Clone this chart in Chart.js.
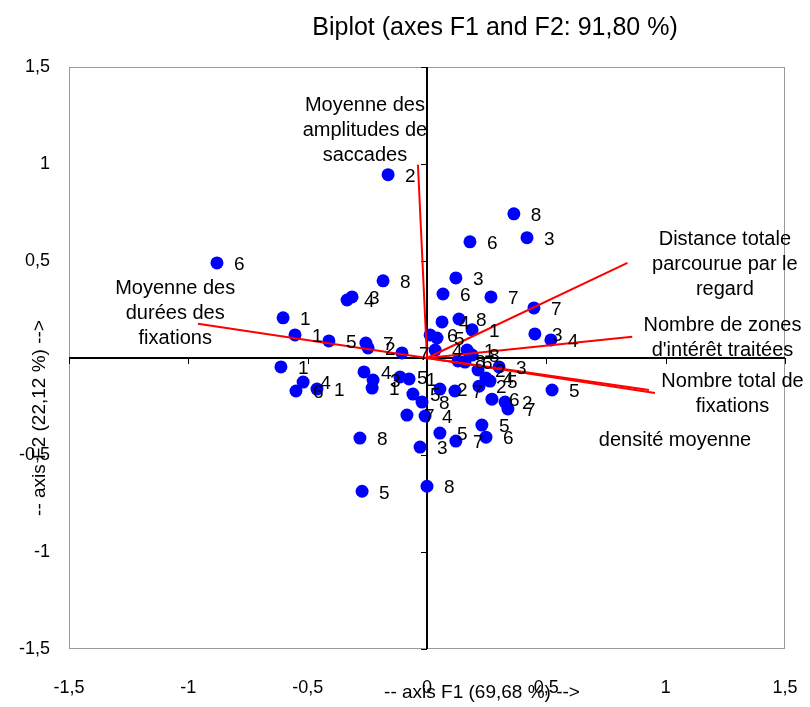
<!DOCTYPE html>
<html><head><meta charset="utf-8">
<script src="https://cdn.jsdelivr.net/npm/chart.js@4"></script>
<style>html,body{margin:0;padding:0;background:#fff}#wrap{width:810px;height:707px}</style>
</head><body><div id="wrap"><canvas id="c" width="810" height="707"></canvas></div>
<script>
// ---- data ----
const obsX = [-0.163,-0.880,-0.184,-0.335,-0.314,-0.603,-0.553,-0.411,-0.256,-0.247,-0.105,
  0.364,0.419,0.180,0.121,0.067,0.268,0.448,0.452,0.519,0.063,0.134,0.189,0.013,0.042,0.034,
  0.168,0.189,0.130,0.159,0.302,0.247,0.264,0.214,
  -0.612,-0.519,-0.549,-0.461,-0.264,-0.226,-0.230,-0.113,-0.075,-0.059,-0.021,-0.084,-0.008,
  -0.281,-0.272,0.000,-0.029,
  0.054,0.117,0.218,0.272,0.327,0.339,0.524,0.054,0.121,0.230,0.247];
const obsY = [0.945,0.490,0.398,0.299,0.315,0.207,0.119,0.088,0.077,0.052,0.026,
  0.743,0.620,0.599,0.413,0.330,0.315,0.258,0.124,0.093,0.186,0.201,0.145,0.119,0.103,0.041,
  0.041,0.015,-0.015,-0.021,-0.046,-0.103,-0.119,-0.062,
  -0.046,-0.124,-0.170,-0.160,-0.072,-0.114,-0.155,-0.098,-0.108,-0.186,-0.227,-0.294,-0.299,
  -0.413,-0.687,-0.661,-0.459,
  -0.160,-0.170,-0.145,-0.212,-0.227,-0.263,-0.165,-0.387,-0.428,-0.346,-0.408];
const obsLabels = ["2","6","8","4","3","1","1","5","7","2","7",
  "8","3","6","3","6","7","7","3","4","4","8","1","6","5","4",
  "1","8","8","6","3","4","5","2",
  "1","4","6","1","4","3","1","5","1","5","8","7","4",
  "8","5","8","3",
  "2","7","2","6","2","7","5","5","7","5","6"];

const varNames = ["Moyenne des amplitudes de saccades","Moyenne des durées des fixations",
  "Distance totale parcourue par le regard","Nombre de zones d'intérêt traitées",
  "Nombre total de fixations","densité moyenne"];
const varX = [-0.038,-0.96,0.84,0.86,0.955,0.93];
const varY = [0.996,0.176,0.49,0.11,-0.18,-0.165];

const tickValues = [-1.5,-1,-0.5,0,0.5,1,1.5];
const chartTitle = "Biplot (axes F1 and F2: 91,80 %)";
const xTitle = "-- axis F1 (69,68 %) -->";
const yTitle = "-- axis F2 (22,12 %) -->";

// ---- presentation (label placement in data units, fonts, colours) ----
const FONT = "'Liberation Sans', Arial, sans-serif";
const varLabelLayout = [
  {lines:["Moyenne des","amplitudes de","saccades"], x:-0.26, y:1.172},
  {lines:["Moyenne des","durées des","fixations"], x:-1.055, y:0.232},
  {lines:["Distance totale","parcourue par le","regard"], x:1.248, y:0.480},
  {lines:["Nombre de zones","d'intérêt traitées"], x:1.238, y:0.101},
  {lines:["Nombre total de","fixations"], x:1.28, y:-0.186},
  {lines:["densité moyenne"], x:1.039, y:-0.423}
];

const fmt = v => String(v).replace('.', ',');

const points = obsX.map((x,i)=>({x, y:obsY[i]}));
const vectorSets = varNames.map((n,i)=>({
  type:'line', label:n, data:[{x:0,y:0},{x:varX[i],y:varY[i]}],
  borderColor:'#ff0000', borderWidth:2, pointRadius:0, fill:false, order:0, tension:0
}));

const biplot = {
  id:'biplot',
  beforeDatasetsDraw(chart){
    const {ctx, chartArea:a, scales:{x,y}} = chart;
    ctx.save();
    ctx.strokeStyle = '#9a9a9a'; ctx.lineWidth = 1;
    ctx.strokeRect(a.left+0.5, a.top+0.5, a.right-a.left-1, a.bottom-a.top-1);
    const x0 = x.getPixelForValue(0), y0 = y.getPixelForValue(0);
    ctx.strokeStyle = '#000'; ctx.lineWidth = 2;
    ctx.beginPath();
    ctx.moveTo(x0, a.top); ctx.lineTo(x0, a.bottom);
    ctx.moveTo(a.left, y0); ctx.lineTo(a.right, y0);
    ctx.stroke();
    ctx.lineWidth = 1;
    ctx.beginPath();
    tickValues.forEach(t=>{
      const py = Math.round(y.getPixelForValue(t))+0.5;
      ctx.moveTo(x0-6, py); ctx.lineTo(x0, py);
      const px = Math.round(x.getPixelForValue(t))+0.5;
      ctx.moveTo(px, y0); ctx.lineTo(px, y0+6);
    });
    ctx.stroke();
    ctx.restore();
  },
  afterDatasetsDraw(chart){
    const {ctx, scales:{x,y}} = chart;
    ctx.save();
    ctx.fillStyle = '#000';
    ctx.font = `19px ${FONT}`;
    ctx.textAlign = 'left'; ctx.textBaseline = 'middle';
    obsLabels.forEach((lab,i)=>{
      ctx.fillText(lab, x.getPixelForValue(obsX[i])+17, y.getPixelForValue(obsY[i])+2);
    });
    ctx.font = `20px ${FONT}`;
    ctx.textAlign = 'center';
    const lh = 25;
    varLabelLayout.forEach(v=>{
      const cx = x.getPixelForValue(v.x), cy = y.getPixelForValue(v.y);
      const n = v.lines.length;
      v.lines.forEach((ln,k)=>{
        ctx.fillText(ln, cx, cy + (k-(n-1)/2)*lh);
      });
    });
    ctx.restore();
  },
  afterDraw(chart){
    const {ctx, chartArea:a} = chart;
    ctx.save();
    ctx.fillStyle = '#000';
    ctx.textAlign = 'center'; ctx.textBaseline = 'middle';
    ctx.font = `25px ${FONT}`;
    ctx.fillText(chartTitle, (a.left+a.right)/2 + 68, 28);
    ctx.font = `19px ${FONT}`;
    ctx.fillText(xTitle, (a.left+a.right)/2 + 55, a.bottom + 44);
    ctx.translate(40, (a.top+a.bottom)/2 + 60);
    ctx.rotate(-Math.PI/2);
    ctx.fillText(yTitle, 0, 0);
    ctx.restore();
  }
};

new Chart(document.getElementById('c'), {
  type:'scatter',
  data:{ datasets:[
    ...vectorSets,
    {type:'scatter', label:'Observations', data:points, backgroundColor:'#0000ff', borderColor:'#0000ff',
     pointRadius:6.5, pointHoverRadius:6.5, borderWidth:0, order:1}
  ]},
  options:{
    responsive:false, animation:false, devicePixelRatio:1,
    layout:{padding:{left:0, right:25, top:67, bottom:0}},
    plugins:{legend:{display:false}, tooltip:{enabled:false}, title:{display:false}},
    scales:{
      x:{type:'linear', min:-1.5, max:1.5,
        ticks:{stepSize:0.5, padding:28, color:'#000', font:{family:FONT, size:18}, callback:v=>fmt(v)},
        grid:{display:false, drawTicks:false}, border:{display:false},
        afterFit(s){ s.height = 58; s.paddingLeft = 0; s.paddingRight = 0; }},
      y:{type:'linear', min:-1.5, max:1.5,
        ticks:{stepSize:0.5, padding:19, color:'#000', font:{family:FONT, size:18}, callback:v=> v===0 ? '' : fmt(v)},
        grid:{display:false, drawTicks:false}, border:{display:false},
        afterFit(s){ s.width = 69; s.paddingTop = 0; s.paddingBottom = 0; }}
    }
  },
  plugins:[biplot]
});
</script></body></html>
